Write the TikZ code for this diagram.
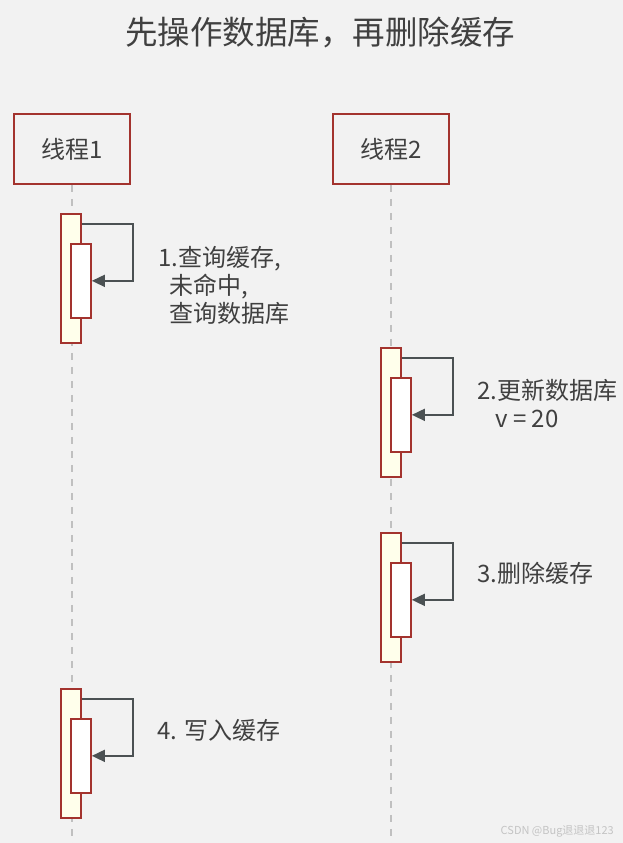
\documentclass[tikz,border=0pt]{standalone}
\usepackage{fontspec}
\setmainfont{Noto Sans CJK SC}
\usetikzlibrary{
  arrows.meta,
  backgrounds,
  calc,
  positioning
}
\definecolor{ink}{HTML}{404040}
\definecolor{paper}{HTML}{F2F2F2}
\definecolor{brick}{HTML}{A3332E}
\definecolor{cream}{HTML}{FFFFEB}
\definecolor{lifegrey}{HTML}{C0C0C0}
\definecolor{wire}{HTML}{4B5153}
\definecolor{mark}{HTML}{C4C4C4}
\tikzset{
  threadbox/.style={
    draw=brick,
    line width=1.7pt,
    fill=paper,
    minimum width=116pt,
    minimum height=70pt,
    text=ink,
    font=\fontsize{24}{28}\selectfont
  },
  lifeline/.style={
    draw=lifegrey,
    line width=1.7pt,
    dash pattern=on 7pt off 7pt
  },
  outerbar/.style={
    draw=brick,
    fill=cream,
    line width=1.7pt,
    minimum width=20pt,
    minimum height=129pt,
    inner sep=0pt,
    anchor=north
  },
  innerbar/.style={
    draw=brick,
    fill=white,
    line width=1.7pt,
    minimum width=20pt,
    minimum height=74pt,
    inner sep=0pt,
    anchor=north
  },
  selfcall/.style={
    -{Triangle[length=13pt,width=12pt]},
    draw=wire,
    line width=1.7pt
  },
  steplabel/.style={
    anchor=west,
    align=left,
    text=ink,
    inner sep=0pt,
    font=\fontsize{24}{28}\selectfont
  }
}

\begin{document}
\begin{tikzpicture}[x=1pt,y=-1pt]
  % Canvas.
  \fill[paper] (0,0) rectangle (623,843);
  \useasboundingbox (0,0) rectangle (623,843);

  % Title.
  \node[text=ink, font=\fontsize{32.5}{38}\selectfont]
    (title) at (320,32) {先操作数据库，再删除缓存};

  % Thread heads.
  \node[threadbox] (t1) at (72,149) {线程1};
  \node[threadbox] (t2) at (391,149) {线程2};
  \coordinate (t1end) at (72,843);
  \coordinate (t2end) at (391,843);
  \draw[lifeline] (t1.south) -- (t1end);
  \draw[lifeline] (t2.south) -- (t2end);

  % Activations with self calls.
  \foreach \lx/\ty/\n in {71/213/1, 391/347/2, 391/532/3, 71/688/4}{
    \node[outerbar] (a\n) at (\lx,\ty) {};
    \node[innerbar] (b\n) at ($(a\n.north)+(10,30)$) {};
    \draw[selfcall] ($(a\n.north east)+(0,11)$) -- ++(51,0) |- (b\n.east);
  }

  % Labels.
  \node[steplabel] (s1) at (158,285)
    {1.查询缓存,\\\hspace{11pt}未命中,\\\hspace{11pt}查询数据库};
  \node[steplabel] (s2) at (477,404)
    {2.更新数据库\\\hspace{18pt}v = 20};
  \node[steplabel] (s3) at (477,573) {3.删除缓存};
  \node[steplabel] (s4) at (157,730) {4. 写入缓存};

  % Watermark.
  \node[text=mark, anchor=east, inner sep=0pt,
    font=\fontsize{11}{13}\selectfont] (wm) at (614,831)
    {CSDN @Bug退退退123};
\end{tikzpicture}
\end{document}
